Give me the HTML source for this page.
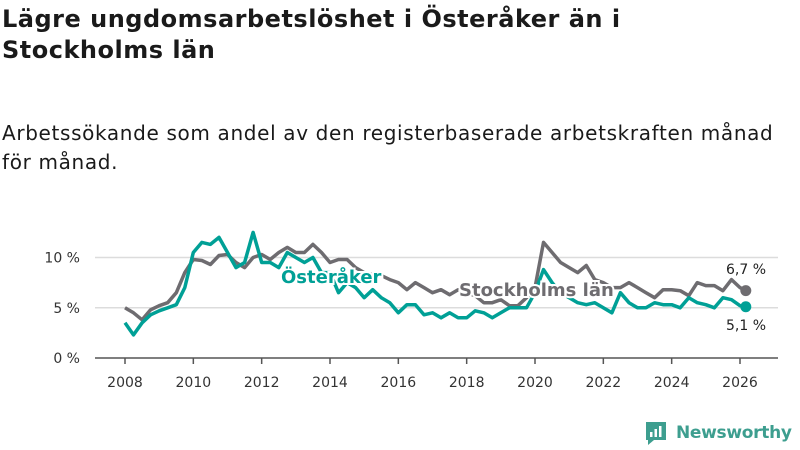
<!DOCTYPE html>
<html><head><meta charset="utf-8"><style>
body{margin:0;width:800px;height:450px;background:#fff;font-family:"DejaVu Sans","Liberation Sans",sans-serif;overflow:hidden;position:relative;color:#1a1a1a}
h1{position:absolute;left:2px;top:4px;margin:0;font-size:24px;line-height:31px;font-weight:bold;width:680px;letter-spacing:0.5px}
.sub{position:absolute;left:2px;top:119px;margin:0;font-size:20px;line-height:29px;width:798px;letter-spacing:0.65px;white-space:nowrap}
svg{position:absolute;left:0;top:0}
</style></head><body>
<h1>Lägre ungdomsarbetslöshet i Österåker än i Stockholms län</h1>
<p class="sub">Arbetssökande som andel av den registerbaserade arbetskraften månad<br>för månad.</p>
<svg id="c" width="800" height="450"></svg>
<script>
const years=[2008,2010,2012,2014,2016,2018,2020,2022,2024,2026];
const yTicks=[0,5,10];
const stockholm=[5.0,4.5,3.8,4.8,5.2,5.5,6.5,8.5,9.8,9.7,9.3,10.2,10.3,9.5,9.0,10.0,10.3,9.8,10.5,11.0,10.5,10.5,11.3,10.5,9.5,9.8,9.8,9.0,8.5,8.3,8.2,7.8,7.5,6.8,7.5,7.0,6.5,6.8,6.3,6.8,6.5,6.2,5.5,5.5,5.8,5.2,5.2,6.0,7.0,11.5,10.5,9.5,9.0,8.5,9.2,7.8,7.5,7.0,7.0,7.5,7.0,6.5,6.0,6.8,6.8,6.7,6.2,7.5,7.2,7.2,6.7,7.8,7.0,6.7];
const osteraker=[3.5,2.3,3.5,4.3,4.7,5.0,5.3,7.0,10.5,11.5,11.3,12.0,10.5,9.0,9.5,12.5,9.5,9.5,9.0,10.5,10.0,9.5,10.0,8.5,8.5,6.5,7.5,7.0,6.0,6.8,6.0,5.5,4.5,5.3,5.3,4.3,4.5,4.0,4.5,4.0,4.0,4.7,4.5,4.0,4.5,5.0,5.0,5.0,6.5,8.8,7.5,6.5,6.0,5.5,5.3,5.5,5.0,4.5,6.5,5.5,5.0,5.0,5.5,5.3,5.3,5.0,6.0,5.5,5.3,5.0,6.0,5.8,5.2,5.1];
const x=t=>125+(t-2008)*(615/18);
const y=v=>358-v*10.05;
const tOf=i=>i<73?2008+i/4:2026.17;
const svg=document.getElementById('c');
const NS='http://www.w3.org/2000/svg';
function mk(tag,attrs,txt){const e=document.createElementNS(NS,tag);for(const k in attrs)e.setAttribute(k,attrs[k]);if(txt!==undefined)e.textContent=txt;svg.appendChild(e);return e;}
yTicks.forEach(v=>{
 if(v>0){const g=mk('line',{x1:95,x2:778,y1:y(v),y2:y(v),stroke:'#dcdcdc','stroke-width':1.5});
 
 }
 const l=mk('text',{x:80,y:y(v)+5,'text-anchor':'end','font-size':14,fill:'#333'},v+' %');
 
 
});
const ax=mk('line',{x1:95,x2:778,y1:358,y2:358,stroke:'#555','stroke-width':1.5});


years.forEach(yr=>{
 const t=mk('line',{x1:x(yr),x2:x(yr),y1:358,y2:364,stroke:'#555','stroke-width':1.5});
 
 
 const l=mk('text',{x:x(yr),y:387,'text-anchor':'middle','font-size':14,fill:'#333'},yr);
 
 
});
function line(arr,color,name){
 const d=arr.map((v,i)=>(i?'L':'M')+x(tOf(i)).toFixed(1)+','+y(v).toFixed(1)).join('');
 const p=mk('path',{d:d,fill:'none',stroke:color,'stroke-width':3.5,'stroke-linejoin':'round'});
 
 
 const n=arr.length-1;
 const c=mk('circle',{cx:x(tOf(n)),cy:y(arr[n]),r:5.5,fill:color});
 
 
}
line(stockholm,'#6e6c70','stockholm');
line(osteraker,'#00a096','osteraker');
const a=mk('text',{x:281,y:283,'font-size':18,'font-weight':'bold',fill:'#00a096',stroke:'#fff','stroke-width':4,'paint-order':'stroke'},'Österåker');


const b=mk('text',{x:459,y:296,'font-size':18,'font-weight':'bold',fill:'#6e6c70',stroke:'#fff','stroke-width':4,'paint-order':'stroke'},'Stockholms län');


const v1=mk('text',{x:746,y:274,'text-anchor':'middle','font-size':14,fill:'#222'},'6,7 %');


const v2=mk('text',{x:746,y:330,'text-anchor':'middle','font-size':14,fill:'#222'},'5,1 %');


</script>
<div style="position:absolute;left:644px;top:420px;display:flex;align-items:center">
<svg width="24" height="26" viewBox="0 0 24 26" style="position:static"><path d="M2 2h20v18H10l-6 5v-5H2z" fill="#3d9e8f"/><rect x="6" y="12" width="2.5" height="5" fill="#fff"/><rect x="10.5" y="9" width="2.5" height="8" fill="#fff"/><rect x="15" y="6" width="2.5" height="11" fill="#fff"/></svg>
<span style="font-size:17px;font-weight:bold;color:#3d9e8f;margin-left:8px;letter-spacing:-0.3px">Newsworthy</span></div>
</body></html>
